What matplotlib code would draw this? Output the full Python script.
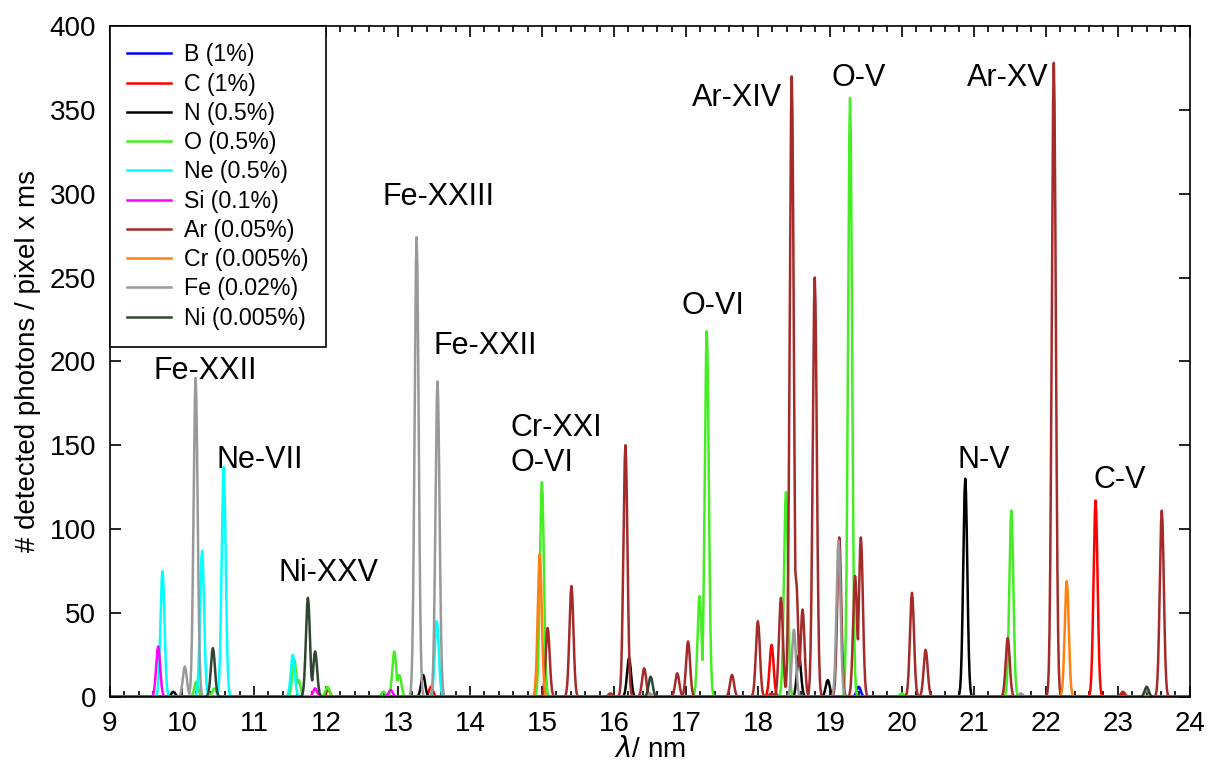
import matplotlib
matplotlib.use("Agg")
import matplotlib.pyplot as plt
from matplotlib.ticker import MultipleLocator
import numpy as np

plt.rcParams['font.family'] = ['Liberation Sans', 'DejaVu Sans']

# Line lists: centre wavelength (nm) and peak height
labels = ["B (1%)", "C (1%)", "N (0.5%)", "O (0.5%)", "Ne (0.5%)", "Si (0.1%)",
          "Ar (0.05%)", "Cr (0.005%)", "Fe (0.02%)", "Ni (0.005%)"]
colors = ["#0000FF", "#FF0000", "#000000", "#44EE22", "#00FFFF", "#FF00FF",
          "#A52A2A", "#FF8010", "#999999", "#304530"]

b_pos = [19.40]
b_hgt = [6]
c_pos = [12.03, 13.46, 18.19, 22.69, 23.07]
c_hgt = [4, 6, 31, 117, 2]
n_pos = [9.88, 13.35, 16.21, 18.57, 18.97, 20.88]
n_hgt = [3, 13, 23, 25, 10, 130]
o_pos = [10.20, 10.45, 11.56, 11.62, 12.02, 12.80, 12.95, 13.02, 15.00, 17.19, 17.29,
         18.39, 19.28, 20.00, 21.52]
o_hgt = [9, 5, 22, 10, 6, 3, 27, 13, 128, 60, 218, 122, 357, 2, 111]
ne_pos = [9.73, 10.28, 10.58, 11.54, 13.54]
ne_hgt = [75, 87, 137, 25, 45]
si_pos = [9.67, 11.85, 12.90]
si_hgt = [30, 5, 4]
ar_pos = [15.08, 15.41, 15.95, 16.16, 16.42, 16.88, 17.03, 17.64, 18.00, 18.19, 18.32,
          18.47, 18.53, 18.62, 18.79, 19.13, 19.35, 19.43, 20.14, 20.33, 21.47, 22.11,
          23.07, 23.61]
ar_hgt = [41, 66, 2, 150, 17, 14, 33, 13, 45, 2, 59, 370, 70, 52, 250, 95, 72, 95, 62,
          28, 35, 378, 3, 111]
cr_pos = [14.97, 22.29]
cr_hgt = [85, 69]
fe_pos = [10.04, 10.19, 13.26, 13.55, 16.50, 18.50, 19.12, 21.65, 23.40]
fe_hgt = [18, 190, 274, 188, 2, 40, 93, 2, 4]
ni_pos = [10.43, 11.75, 11.85, 16.51, 23.40]
ni_hgt = [29, 59, 27, 12, 6]

positions = [b_pos, c_pos, n_pos, o_pos, ne_pos, si_pos, ar_pos, cr_pos, fe_pos, ni_pos]
heights = [b_hgt, c_hgt, n_hgt, o_hgt, ne_hgt, si_hgt, ar_hgt, cr_hgt, fe_hgt, ni_hgt]

# annotations: text, wavelength, counts
ann_text = ["Fe-XXII", "Ne-VII", "Ni-XXV", "Fe-XXIII", "Fe-XXII", "O-VI",
            "Ar-XIV", "O-V", "Ar-XV", "N-V", "C-V"]
ann_x = [10.33, 11.08, 12.03, 13.57, 14.21, 17.37, 17.71, 19.40, 21.47, 21.14, 23.03]
ann_y = [194, 141, 74, 298, 209, 233, 357, 369, 369, 141, 129]

lam = np.arange(9.0, 24.0001, 0.01)
sigma = 0.028  # instrument line width (nm)

fig = plt.figure(figsize=(12.08, 7.64), dpi=100)
ax = fig.add_axes([0.091, 0.088, 0.894, 0.878])

for pos, hgt, col, lab in zip(positions, heights, colors, labels):
    spec = np.zeros_like(lam)
    for p, h in zip(pos, hgt):
        spec = np.maximum(spec, h * np.exp(-0.5 * ((lam - p) / sigma) ** 2))
    ax.plot(lam, spec, color=col, lw=1.8, label=lab)

for t, x, y in zip(ann_text, ann_x, ann_y):
    ax.text(x, y, t, fontsize=22, ha='center', va='center')
ax.text(14.56, 150, "Cr-XXI\nO-VI", fontsize=22, ha='left', va='center', linespacing=1.2)

ax.set_xlim(9, 24)
ax.set_ylim(0, 400)
ax.xaxis.set_major_locator(MultipleLocator(1))
ax.xaxis.set_minor_locator(MultipleLocator(0.2))
ax.yaxis.set_major_locator(MultipleLocator(50))
ax.tick_params(which='both', direction='in', top=True, right=True, labelsize=20, pad=10)
ax.tick_params(which='major', length=8, width=1.2)
ax.tick_params(which='minor', length=4, width=1.2)
for s in ax.spines.values():
    s.set_linewidth(1.2)

ax.set_xlabel(r"$\lambda$/ nm", fontsize=20, labelpad=0)
ax.set_ylabel("# detected photons / pixel x ms", fontsize=20, labelpad=6)

leg = ax.legend(loc='upper left', borderaxespad=0, fancybox=False, edgecolor='black',
                framealpha=1, fontsize=16.7, handlelength=1.9, labelspacing=0.27,
                handletextpad=0.55, borderpad=0.75)
leg.get_frame().set_linewidth(1.2)

fig.savefig("out.png", dpi=100)
